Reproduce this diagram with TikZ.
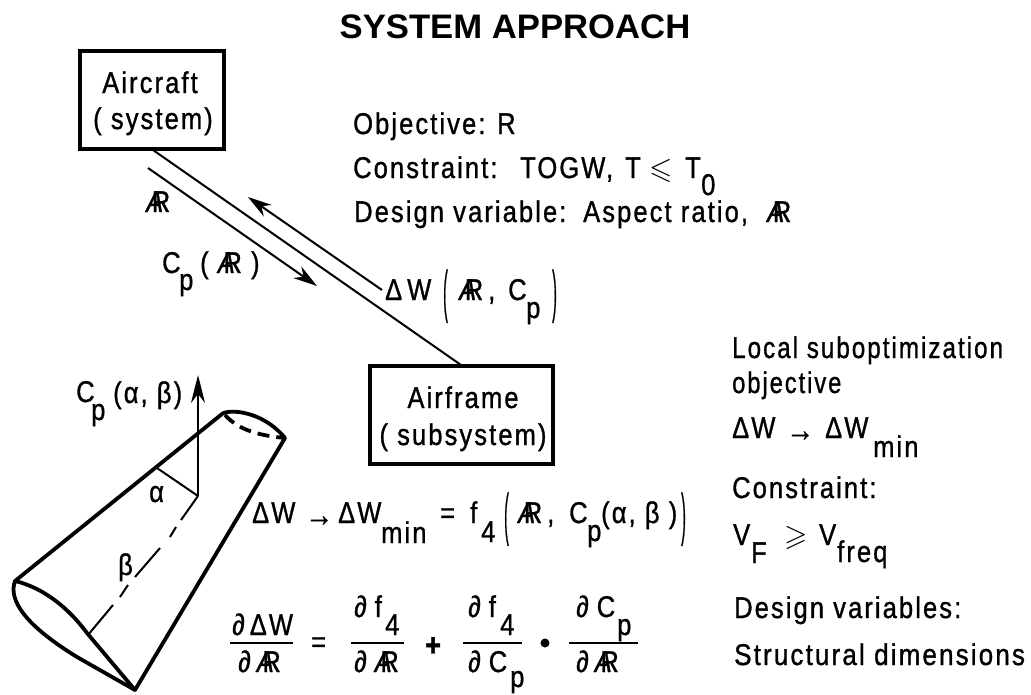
\documentclass[tikz,border=0pt]{standalone}
\usepackage{amssymb}
\usepackage{fontspec}
\usetikzlibrary{arrows.meta}
\setmainfont{Liberation Sans}
\newfontfamily\fnt[FakeStretch=0.85,LetterSpace=7,FakeBold=1.0]{Liberation Sans}
\newfontfamily\titlefnt[FakeStretch=1.02,BoldFont={Liberation Sans Bold}]{Liberation Sans}
\newcommand{\AR}{{\itshape A}\kern-.38em R}
\newcommand{\bigp}[1]{\scalebox{.55}[1.9]{\raisebox{-.1ex}{#1}}}
\tikzset{
  x=1pt,y=-1pt,
  txt/.style={anchor=base west,inner sep=0pt,font=\fnt\fontsize{30}{32}\selectfont},
  ctxt/.style={txt,anchor=base},
  arrtxt/.style={txt,font=\fnt\fontsize{33}{35}\selectfont},
  boxn/.style={draw,line width=3.2pt,inner sep=0pt,minimum width=#1,minimum height=98pt},
  thin line/.style={line width=2pt},
  wing/.style={line width=3.8pt,line cap=round,line join=round},
  arr/.style={thin line,-{Stealth[length=24pt,width=14pt]}},
  frac line/.style={line width=1.5pt}
}
\begin{document}
\begin{tikzpicture}
\useasboundingbox (0,0) rectangle (1031,694);
\fill[white] (0,0) rectangle (1031,694);
\node[inner sep=0pt,anchor=base,font=\titlefnt\bfseries\fontsize{34}{36}\selectfont] (title) at (515,38) {SYSTEM APPROACH};
% boxes
\node[boxn=144pt] (aircraft) at (152,100) {};
\node[boxn=183pt] (airframe) at (461.5,415) {};
\node[ctxt] (t1) at (150,93) {Aircraft};
\node[ctxt] (t2) at (153,129) {( system)};
\node[ctxt] (t3) at (463,408) {Airframe};
\node[ctxt] (t4) at (463,445) {( subsystem)};
% connectors
\coordinate (m1) at (153,150);
\coordinate (m2) at (461,365);
\draw[thin line] (m1) -- (m2);
\coordinate (a1) at (148,168); \coordinate (a2) at (317,286);
\coordinate (b1) at (382,290); \coordinate (b2) at (248,197);
\draw[arr] (a1) -- (a2);
\draw[arr] (b1) -- (b2);
% upper text
\node[txt] (o1) at (353,134) {Objective:};
\node[txt] (o1b) at (497,134) {R};
\node[txt] (o2) at (353,178) {Constraint:};
\node[txt] (o2b) at (520,178) {TOGW,};
\node[txt] (o2c) at (625,178) {T};
\node[txt] (o2d) at (649,178) {$\leqslant$};
\node[txt] (o2e) at (685,178) {T};
\node[txt] (o2s) at (701,195) {0};
\node[txt] (o3) at (354,222) {Design variable:};
\node[txt] (o3b) at (583,222) {Aspect ratio,};
\node[txt] (o3c) at (767,222) {\AR};
\node[txt] (l1) at (146,212) {\AR};
\node[txt] (l2) at (162,273) {C};
\node[txt] (l2s) at (179,290) {p};
\node[txt] (l2r) at (200,273) {( \AR\ )};
\node[txt] (d1) at (385,300) {Δ\,W};
\node[txt] (d2) at (443,308) {\bigp{(}};
\node[txt] (d3) at (459,300) {\AR\,,};
\node[txt] (d4) at (508,300) {C};
\node[txt] (d5) at (526,318) {p};
\node[txt] (d6) at (552,308) {\bigp{)}};
% right text
\node[txt,xscale=.95] (r1) at (732,358) {Local suboptimization};
\node[txt,xscale=.93] (r2) at (732,393) {objective};
\node[txt] (r3) at (732,438) {ΔW};
\node[arrtxt] (r3a) at (786,441) {→};
\node[txt] (r3b) at (825,438) {ΔW};
\node[txt] (r3s) at (873,457) {min};
\node[txt] (r4) at (732,498) {Constraint:};
\node[txt] (r5) at (733,545) {V};
\node[txt] (r5a) at (751,563) {F};
\node[txt] (r5b) at (784,545) {$\geqslant$};
\node[txt] (r5c) at (819,545) {V};
\node[txt] (r5d) at (837,562) {freq};
\node[txt] (r6) at (734,618) {Design variables:};
\node[txt,xscale=1.02] (r7) at (734,665) {Structural dimensions};
% formula 1
\node[txt] (f1) at (252,523) {ΔW};
\node[arrtxt] (f1a) at (305,526) {→};
\node[txt] (f2) at (338,523) {ΔW};
\node[txt] (f3) at (381,543) {min};
\node[txt] (f4) at (440,523) {=};
\node[txt] (f5) at (470,523) {f};
\node[txt] (f6) at (481,542) {4};
\node[txt] (f7) at (504,531) {\bigp{(}};
\node[txt] (f8) at (518,523) {\AR\,,};
\node[txt] (f9) at (569,523) {C};
\node[txt] (f10) at (587,541) {p};
\node[txt] (f11) at (601,523) {(α, β )};
\node[txt] (f12) at (681,531) {\bigp{)}};
% formula 2
\node[txt] (g1) at (232,635) {∂\,ΔW};
\node[txt] (g2) at (238,672) {∂\hspace{6pt}\AR};
\node[txt] (g3) at (311,652) {=};
\node[txt] (g4) at (354,617) {∂\hspace{8pt}f};
\node[txt] (g5) at (385,635) {4};
\node[txt] (g6) at (354,672) {∂\hspace{8pt}\AR};
\node[txt,font=\fnt\bfseries\fontsize{32}{32}\selectfont] (g7) at (425,656) {+};
\node[txt] (g8) at (468,617) {∂\hspace{8pt}f};
\node[txt] (g9) at (500,635) {4};
\node[txt] (g10) at (468,672) {∂\hspace{8pt}C};
\node[txt] (g11) at (510,687) {p};
\node[circle,fill,inner sep=0pt,minimum size=9pt] (g12) at (545,643) {};
\node[txt] (g13) at (576,617) {∂\hspace{8pt}C};
\node[txt] (g14) at (617,635) {p};
\node[txt] (g15) at (576,672) {∂\hspace{6pt}\AR};
\draw[frac line] (230,643) -- (293,643);
\draw[frac line] (351,643) -- (404,643);
\draw[frac line] (463,643) -- (522,643);
\draw[frac line] (569,643) -- (638,643);
% wing
\draw[wing] (15,581) -- (222,414) .. controls (228,409) and (262,410) .. (285,438) -- (135,690);
\draw[wing] (15,581) .. controls (45,588) and (70,610) .. (87,633) -- (135,690);
\draw[wing] (15,581) .. controls (8,600) and (25,625) .. (77,657) -- (135,690);
\draw[wing,dash pattern=on 12pt off 7pt,line cap=butt] (225,415) .. controls (240,432) and (265,436) .. (285,438);
\coordinate (v) at (198,496);
\draw[thin line,-{Stealth[length=28pt,width=14pt]}] (v) -- (198,375);
\draw[thin line] (157,468) -- (v);
\draw[thin line] (v) -- (181,520);
\draw[thin line] (176,527) -- (170,537);
\draw[thin line] (160,548) -- (135,577);
\draw[thin line] (128,585) -- (120,597);
\draw[thin line] (113,605) -- (88,635);
% wing labels
\node[txt] (w1) at (149,502) {α};
\node[txt] (w2) at (118,575) {β};
\node[txt] (w3) at (76,402) {C};
\node[txt] (w4) at (91,420) {p};
\node[txt] (w5) at (113,403) {(α, β)};
\end{tikzpicture}
\end{document}
